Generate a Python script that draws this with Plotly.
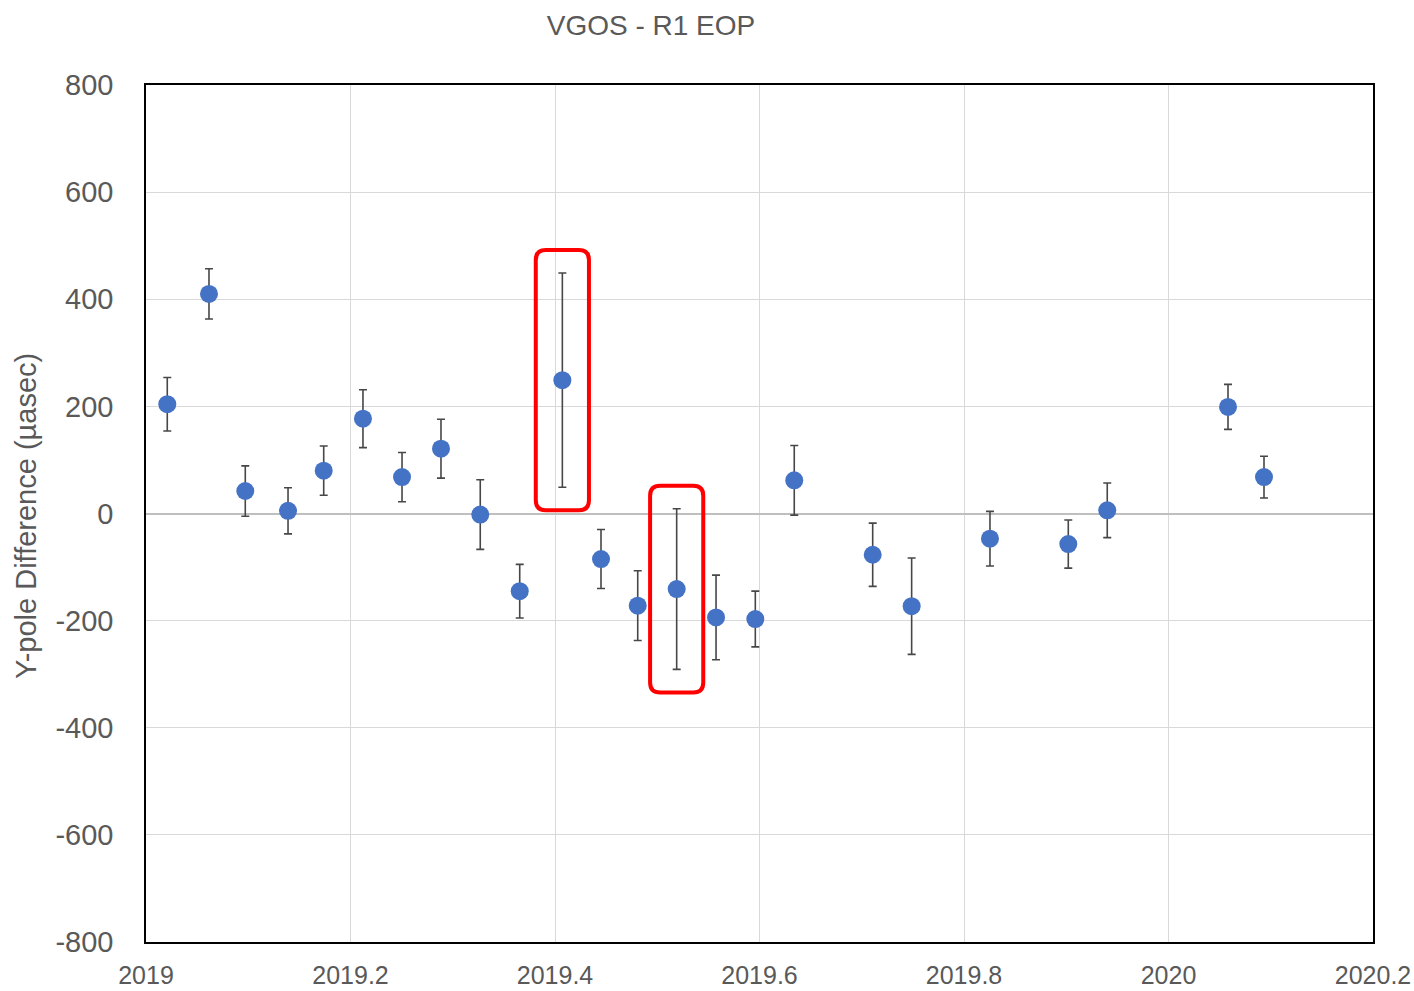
import plotly.graph_objects as go

# ---- data ----
epoch = [2019.0208, 2019.0616, 2019.0971, 2019.1389, 2019.1738, 2019.2122,
         2019.2504, 2019.2885, 2019.3269, 2019.3655, 2019.4072, 2019.4450,
         2019.4809, 2019.5190, 2019.5575, 2019.5959, 2019.6340, 2019.7107,
         2019.7488, 2019.8254, 2019.9020, 2019.9401, 2020.0582, 2020.0934]
ypole_diff = [204, 410, 42, 5, 80, 177, 68, 121, -2, -145, 249, -85,
              -172, -141, -194, -197, 62, -77, -173, -47, -57, 6, 199, 68]
ypole_err = [50, 47, 47, 43, 46, 54, 46, 55, 65, 50, 200, 55,
             65, 150, 79, 52, 65, 59, 90, 51, 45, 51, 42, 39]
highlight_idx = [10, 13]

x_tickvals = [2019, 2019.2, 2019.4, 2019.6, 2019.8, 2020, 2020.2]
x_ticktext = ["2019", "2019.2", "2019.4", "2019.6", "2019.8", "2020", "2020.2"]
y_tickvals = [-800, -600, -400, -200, 0, 200, 400, 600, 800]
y_ticktext = ["-800", "-600", "-400", "-200", "0", "200", "400", "600", "800"]

TEXT = "#595959"
FONT = "Liberation Sans, Arial, sans-serif"

W, H = 1414, 991
L, R, T, B = 146, W - 1373, 85, H - 942
PW, PH = W - L - R, H - T - B

fig = go.Figure()
fig.add_trace(go.Scatter(
    x=epoch, y=ypole_diff, mode="markers",
    marker=dict(size=18, color="#4472C4"),
    error_y=dict(type="data", array=ypole_err, visible=True,
                 color="#474747", thickness=1.6, width=4),
    showlegend=False,
))

# rounded red highlight boxes around selected points
pad_x, pad_y = 0.026, 43
rx, ry = 0.0098, 18.7
for i in highlight_idx:
    x0, x1 = epoch[i] - pad_x, epoch[i] + pad_x
    y0 = ypole_diff[i] - ypole_err[i] - pad_y
    y1 = ypole_diff[i] + ypole_err[i] + pad_y
    path = (f"M {x0+rx},{y1} L {x1-rx},{y1} Q {x1},{y1} {x1},{y1-ry} "
            f"L {x1},{y0+ry} Q {x1},{y0} {x1-rx},{y0} "
            f"L {x0+rx},{y0} Q {x0},{y0} {x0},{y0+ry} "
            f"L {x0},{y1-ry} Q {x0},{y1} {x0+rx},{y1} Z")
    fig.add_shape(type="path", path=path, xref="x", yref="y",
                  line=dict(color="#FF0000", width=4))

fig.update_layout(
    width=W, height=H,
    margin=dict(l=L, r=R, t=T, b=B, autoexpand=False),
    paper_bgcolor="white", plot_bgcolor="white",
    font=dict(family=FONT, color=TEXT),
    title=dict(text="VGOS - R1 EOP", x=651 / W, xanchor="center",
               y=1 - 25 / H, yanchor="middle",
               font=dict(size=28, color=TEXT, family=FONT)),
    xaxis=dict(range=[2019, 2020.2], tickvals=x_tickvals, ticktext=x_ticktext,
               automargin=False, ticklabeloverflow="allow",
               showgrid=True, gridcolor="#D9D9D9", gridwidth=1,
               showline=True, linecolor="black", linewidth=1.5, mirror=True,
               ticks="", zeroline=False, ticklabelstandoff=10,
               tickfont=dict(size=25, color=TEXT, family=FONT)),
    yaxis=dict(range=[-800, 800], tickvals=y_tickvals, ticktext=y_ticktext,
               automargin=False,
               showgrid=True, gridcolor="#D9D9D9", gridwidth=1,
               showline=True, linecolor="black", linewidth=1.5, mirror=True,
               zeroline=True, zerolinecolor="#BFBFBF", zerolinewidth=1.5,
               ticks="", ticklabelstandoff=25,
               tickfont=dict(size=29, color=TEXT, family=FONT)),
    annotations=[dict(text="Y-pole Difference (µasec)", textangle=-90,
                      xref="paper", yref="paper",
                      x=(26 - 146) / PW, y=(942 - 516) / PH,
                      xanchor="center", yanchor="middle", showarrow=False,
                      font=dict(size=29, color=TEXT, family=FONT))],
)

fig.write_html(
    "out.html",
    config={"displayModeBar": False},
    post_script="document.body.style.margin='0';"
                "document.body.style.overflow='hidden';",
)
